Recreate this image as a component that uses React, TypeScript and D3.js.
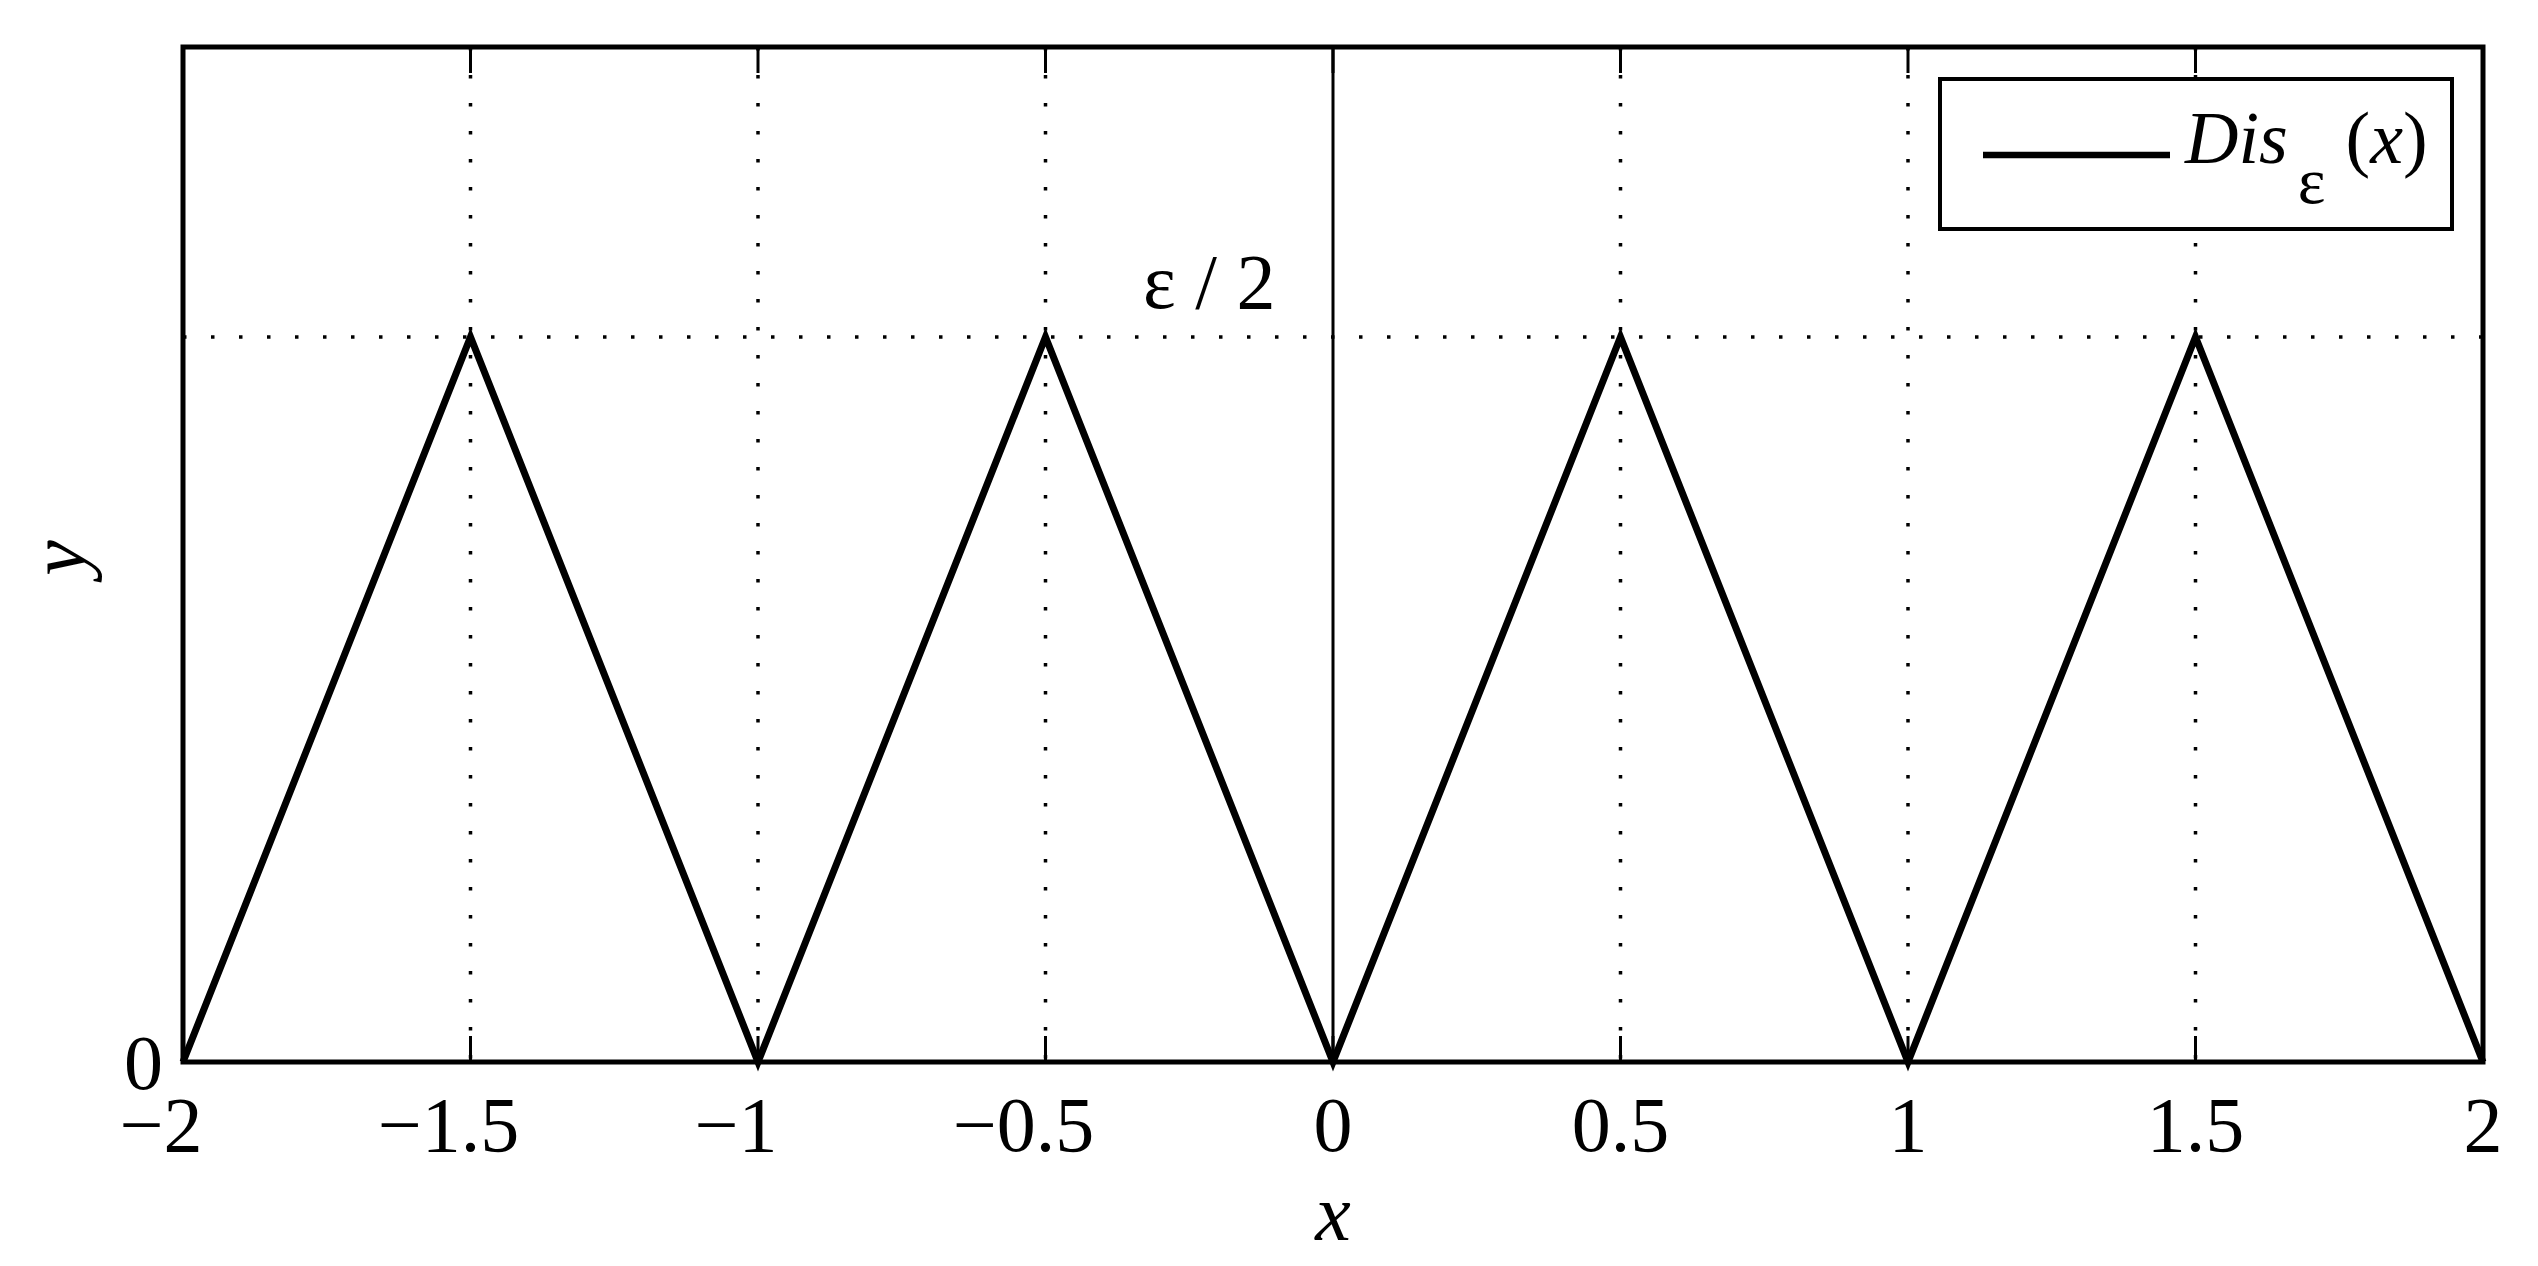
import React from "react";
import * as d3 from "d3";

const xValues = [-2, -1.5, -1, -0.5, 0, 0.5, 1, 1.5, 2];
const yValues = [0, 0.5, 0, 0.5, 0, 0.5, 0, 0.5, 0];
const xTicks = [-2, -1.5, -1, -0.5, 0, 0.5, 1, 1.5, 2];
const xTickLabels = ["\u22122", "\u22121.5", "\u22121", "\u22120.5", "0", "0.5", "1", "1.5", "2"];
const yTicks = [0];
const yTickLabels = ["0"];
const yGrid = [0.5];
const xGrid = [-1.5, -1, -0.5, 0.5, 1, 1.5];
const epsLabel = "\u03b5 / 2";
const legendName = "Dis";

const W = 2538;
const H = 1266;
const M = { left: 183, right: 2483, top: 47, bottom: 1062 };
const FONT = "'Liberation Serif', 'Times New Roman', Times, serif";

export default function App() {
  const x = d3.scaleLinear().domain([-2, 2]).range([M.left, M.right]);
  const y = d3.scaleLinear().domain([0, 0.7]).range([M.bottom, M.top]);
  const pts = xValues.map((v, i) => [v, yValues[i]] as [number, number]);
  const line = d3
    .line<[number, number]>()
    .x((d) => x(d[0]))
    .y((d) => y(d[1]));
  const tickLen = 26;
  const dots = "3.5 24.5";
  return (
    <svg
      width={W}
      height={H}
      style={{ position: "absolute", left: 0, top: 0, background: "#fff" }}
      fontFamily={FONT}
    >
      <rect x={0} y={0} width={W} height={H} fill="#fff" />
      {/* grid */}
      {xGrid.map((g) => (
        <line
          key={"xg" + g}
          x1={x(g)}
          x2={x(g)}
          y1={M.top}
          y2={M.bottom}
          stroke="#000"
          strokeWidth={3.5}
          strokeDasharray={dots}
        />
      ))}
      {yGrid.map((g) => (
        <line
          key={"yg" + g}
          x1={M.left}
          x2={M.right}
          y1={y(g)}
          y2={y(g)}
          stroke="#000"
          strokeWidth={3.5}
          strokeDasharray={dots}
        />
      ))}
      {/* x = 0 axis line */}
      <line x1={x(0)} x2={x(0)} y1={M.top} y2={M.bottom} stroke="#000" strokeWidth={3} />
      {/* ticks */}
      {xTicks.map((t) => (
        <g key={"xt" + t}>
          <line x1={x(t)} x2={x(t)} y1={M.bottom} y2={M.bottom - tickLen} stroke="#000" strokeWidth={3} />
          <line x1={x(t)} x2={x(t)} y1={M.top} y2={M.top + tickLen} stroke="#000" strokeWidth={3} />
        </g>
      ))}
      {/* curve */}
      <path d={line(pts) || ""} fill="none" stroke="#000" strokeWidth={7} strokeLinejoin="miter" />
      {/* frame */}
      <rect
        x={M.left}
        y={M.top}
        width={M.right - M.left}
        height={M.bottom - M.top}
        fill="none"
        stroke="#000"
        strokeWidth={5}
      />
      {/* tick labels */}
      {xTicks.map((t, i) => (
        <text
          key={"xl" + t}
          x={x(t) + (t < 0 ? -22 : 0)}
          y={1151}
          textAnchor="middle"
          fontSize={78}
          fill="#000"
        >
          {xTickLabels[i]}
        </text>
      ))}
      {yTicks.map((t, i) => (
        <text key={"yl" + t} x={163} y={y(t) + 27} textAnchor="end" fontSize={78} fill="#000">
          {yTickLabels[i]}
        </text>
      ))}
      {/* eps / 2 annotation */}
      <text x={x(-0.1)} y={y(0.52)} textAnchor="end" fontSize={78} fill="#000">
        {epsLabel}
      </text>
      {/* axis labels */}
      <text x={x(0)} y={1240} textAnchor="middle" fontSize={80} fontStyle="italic" fill="#000">
        x
      </text>
      <text
        transform={`translate(${85},${558}) rotate(-90)`}
        textAnchor="middle"
        fontSize={80}
        fontStyle="italic"
        fill="#000"
      >
        y
      </text>
      {/* legend */}
      <rect x={1940} y={79} width={512} height={150} fill="#fff" stroke="#000" strokeWidth={4} />
      <line x1={1983} x2={2170} y1={155} y2={155} stroke="#000" strokeWidth={6.5} />
      <text x={2185} y={163} fontSize={74} fill="#000">
        <tspan fontStyle="italic">{legendName}</tspan>
        <tspan fontSize={66} dx={10} dy={40}>
          {"\u03b5"}
        </tspan>
        <tspan dx={20} dy={-40}>
          (
        </tspan>
        <tspan fontStyle="italic">x</tspan>
        <tspan>)</tspan>
      </text>
    </svg>
  );
}
